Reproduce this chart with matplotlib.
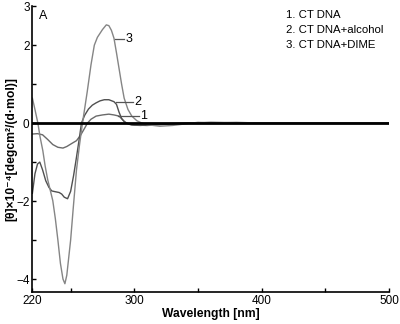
import matplotlib
matplotlib.use("Agg")
import matplotlib.pyplot as plt

plt.rcParams['font.family'] = ['Liberation Sans', 'DejaVu Sans']

# CD spectra
wl_dna = [220, 224, 228, 232, 236, 240, 244, 247, 251, 254.6, 258, 261, 263.2, 266, 270,
          275, 280, 284, 288, 291, 293.5, 298, 305, 315, 330, 350, 400, 450, 500]
cd_dna = [-0.28, -0.27, -0.3, -0.42, -0.55, -0.62, -0.64, -0.6, -0.52, -0.45, -0.3, -0.13, 0.0, 0.1, 0.18,
          0.21, 0.23, 0.21, 0.18, 0.08, 0.0, -0.05, -0.06, -0.03, -0.01, 0.0, 0.0, 0.0, 0.0]

wl_alc = [220, 222, 224, 225.8, 228, 230.5, 233, 235.2, 238, 241, 243, 245, 247.6, 250, 252.3,
          254, 255.4, 257, 258.5, 261, 264, 267, 270, 273, 276.4, 280, 284, 286, 288, 290,
          292, 296, 300, 310, 320, 340, 360, 400, 500]
cd_alc = [-1.8, -1.3, -1.05, -1.0, -1.2, -1.48, -1.65, -1.74, -1.76, -1.78, -1.82, -1.9, -1.94, -1.75, -1.35,
          -1.0, -0.7, -0.35, 0.0, 0.2, 0.36, 0.46, 0.52, 0.57, 0.6, 0.6, 0.55, 0.48, 0.28, 0.12,
          0.04, -0.03, -0.05, -0.06, -0.04, 0.0, 0.02, 0.0, 0.0]

wl_dime = [220, 222, 224.3, 226, 228.2, 230, 232, 236, 238, 240, 242, 244, 245.5, 247, 250,
           252, 254.6, 257, 259.3, 263, 266, 268.6, 271, 275, 278, 280, 282, 284, 286, 288,
           290, 292, 295, 298, 302, 306, 310, 320, 330, 340, 350, 360, 380, 400, 450, 500]
cd_dime = [0.64, 0.35, 0.0, -0.35, -0.71, -1.1, -1.45, -1.99, -2.45, -3.0, -3.6, -4.0, -4.12, -3.9, -3.0,
           -2.2, -1.2, -0.55, 0.0, 0.8, 1.5, 2.0, 2.2, 2.4, 2.52, 2.5, 2.38, 2.18, 1.8, 1.4,
           1.0, 0.64, 0.35, 0.18, 0.06, 0.0, -0.04, -0.08, -0.06, -0.02, 0.02, 0.0, 0.02, 0.0, 0.0, 0.0]

legend_lines = ["1. CT DNA", "2. CT DNA+alcohol", "3. CT DNA+DIME"]

fig = plt.figure(figsize=(4, 3.24), dpi=100)
ax = fig.add_axes([0.081, 0.099, 0.892, 0.882])

ax.plot(wl_dna, cd_dna, color='#6a6a6a', lw=1.0)
ax.plot(wl_alc, cd_alc, color='#505050', lw=1.0)
ax.plot(wl_dime, cd_dime, color='#858585', lw=1.0)
ax.axhline(0, color='black', lw=2)

# curve labels
ax.plot([284.5, 292], [2.17, 2.17], color='#555555', lw=0.9)
ax.text(293.5, 2.17, "3", fontsize=9, va='center', ha='left')
ax.plot([285.8, 299], [0.53, 0.53], color='#555555', lw=0.9)
ax.text(300, 0.53, "2", fontsize=9, va='center', ha='left')
ax.plot([287, 303.5], [0.18, 0.18], color='#555555', lw=0.9)
ax.text(304.5, 0.18, "1", fontsize=9, va='center', ha='left')

ax.text(225, 2.75, "A", fontsize=9, va='center', ha='left')
for i, s in enumerate(legend_lines):
    ax.text(419, 2.78 - i * 0.39, s, fontsize=8.2, va='center', ha='left')

ax.set_xlim(220, 500)
ax.set_ylim(-4.33, 3)
ax.set_xticks([220, 250, 300, 350, 400, 450, 500])
ax.set_xticklabels(['220', '', '300', '', '400', '', '500'])
ax.set_yticks([-4, -3, -2, -1, 0, 1, 2, 3])
ax.set_yticklabels(['\u22124', '', '\u22122', '', '0', '', '2', '3'])
ax.tick_params(direction='in', length=3, width=1, labelsize=8.5, pad=2)
for side in ['top', 'right']:
    ax.spines[side].set_visible(False)
for side in ['left', 'bottom']:
    ax.spines[side].set_linewidth(1.2)

ax.set_xlabel("Wavelength [nm]", fontsize=8.7, fontweight='bold', labelpad=1)
ax.set_ylabel("[θ]×10⁻⁴[degcm²/(d·mol)]", fontsize=8.7, fontweight='bold', labelpad=-1)

fig.savefig("out.png", dpi=100)
